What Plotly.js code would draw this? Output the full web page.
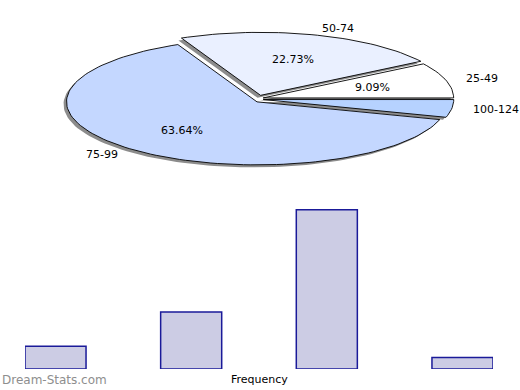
<!DOCTYPE html>
<html>
<head>
<meta charset="utf-8">
<script src="https://cdn.plot.ly/plotly-3.0.1.min.js"></script>
<style>html,body{margin:0;padding:0;background:#fff;}#chart{width:520px;height:390px;}</style>
</head>
<body>
<div id="chart"></div>
<script>
// ---- data ----
const categories = ['25-49', '50-74', '75-99', '100-124'];
const frequencies = [2, 5, 14, 1];
const sliceColors = ['#FFFFFF', '#EAF0FF', '#C4D7FF', '#B6D2FF'];
const xLabel = 'Frequency';
const watermark = 'Dream-Stats.com';

// ---- pie geometry (pixel space of a hidden axis pair) ----
const CX = 259.5, CY = 99, RA = 190.5, RB = 63;
const EXPLODE = 3.8;           // px, along each slice's mid-angle
const SHADOW = [-3, 2.5];      // px offset of the drop shadow
const FONT = 'DejaVu Sans, Arial, sans-serif';

const total = frequencies.reduce((s, v) => s + v, 0);
const traces = [];
const annotations = [];

function slicePath(a0, a1, cx, cy) {
  const xs = [cx], ys = [cy];
  const n = Math.max(4, Math.ceil((a1 - a0) / (Math.PI / 90)));
  for (let i = 0; i <= n; i++) {
    const t = a0 + (a1 - a0) * i / n;
    xs.push(cx + RA * Math.cos(t));
    ys.push(cy - RB * Math.sin(t));
  }
  xs.push(cx); ys.push(cy);
  return [xs, ys];
}

const slices = [];
let acc = 0;
frequencies.forEach((v, i) => {
  const a0 = acc / total * 2 * Math.PI;
  acc += v;
  const a1 = acc / total * 2 * Math.PI;
  const mid = (a0 + a1) / 2;
  const cx = CX + EXPLODE * Math.cos(mid);
  const cy = CY - EXPLODE * Math.sin(mid);
  slices.push({a0, a1, mid, cx, cy, v, i});
});

// shadows first
slices.forEach(s => {
  const [xs, ys] = slicePath(s.a0, s.a1, s.cx + SHADOW[0], s.cy + SHADOW[1]);
  traces.push({type: 'scatter', mode: 'lines', x: xs, y: ys, xaxis: 'x2', yaxis: 'y2',
    fill: 'toself', fillcolor: '#8C8C8C', line: {width: 0, color: '#8C8C8C'},
    hoverinfo: 'skip', showlegend: false});
});
// slices
slices.forEach(s => {
  const [xs, ys] = slicePath(s.a0, s.a1, s.cx, s.cy);
  traces.push({type: 'scatter', mode: 'lines', x: xs, y: ys, xaxis: 'x2', yaxis: 'y2',
    fill: 'toself', fillcolor: sliceColors[s.i], line: {width: 0.9, color: '#000000'},
    name: categories[s.i], hoverinfo: 'name', showlegend: false});
  // percent label inside (only if slice big enough)
  const pct = s.v / total * 100;
  if (pct > 5) {
    annotations.push({xref: 'x2', yref: 'y2',
      x: s.cx + 0.6 * RA * Math.cos(s.mid), y: s.cy - 0.6 * RB * Math.sin(s.mid),
      text: pct.toFixed(2) + '%', showarrow: false,
      font: {family: FONT, size: 11, color: '#000'}, xanchor: 'center', yanchor: 'middle'});
  }
  // category label outside
  const c = Math.cos(s.mid);
  annotations.push({xref: 'x2', yref: 'y2',
    x: s.cx + 1.1 * RA * c, y: s.cy - 1.1 * RB * Math.sin(s.mid),
    text: categories[s.i], showarrow: false,
    font: {family: FONT, size: 11, color: '#000'},
    xanchor: c >= 0 ? 'left' : 'right', yanchor: 'middle'});
});

// bars
traces.push({type: 'bar', x: categories, y: frequencies, xaxis: 'x', yaxis: 'y',
  width: 0.45, marker: {color: '#CCCCE4', line: {color: '#1A1A99', width: 1.5}},
  hoverinfo: 'x+y', showlegend: false});

annotations.push({xref: 'paper', yref: 'paper', x: 259 / 520, y: 1 - 379 / 390,
  text: xLabel, showarrow: false, xanchor: 'center', yanchor: 'middle',
  font: {family: FONT, size: 11, color: '#000'}});
annotations.push({xref: 'paper', yref: 'paper', x: 0, y: 1 - 380 / 390,
  text: watermark, showarrow: false, xanchor: 'left', yanchor: 'middle',
  font: {family: FONT, size: 12, color: '#8E8E8E'}});

const layout = {
  width: 520, height: 390,
  margin: {l: 0, r: 0, t: 0, b: 0},
  paper_bgcolor: '#FFFFFF', plot_bgcolor: 'rgba(0,0,0,0)',
  showlegend: false,
  xaxis: {domain: [25 / 520, 493 / 520], range: [-0.225, 3.225], type: 'category',
    showticklabels: false, ticks: '', showgrid: false, zeroline: false, showline: false, fixedrange: true},
  yaxis: {domain: [21 / 390, 182 / 390], range: [0, 14.15], showticklabels: false, ticks: '',
    showgrid: false, zeroline: false, showline: false, fixedrange: true},
  xaxis2: {domain: [0, 1], range: [0, 520], anchor: 'y2', visible: false, fixedrange: true},
  yaxis2: {domain: [0, 1], range: [390, 0], anchor: 'x2', visible: false, fixedrange: true},
  annotations: annotations
};

Plotly.newPlot('chart', traces, layout, {displayModeBar: false, staticPlot: true});
</script>
</body>
</html>
